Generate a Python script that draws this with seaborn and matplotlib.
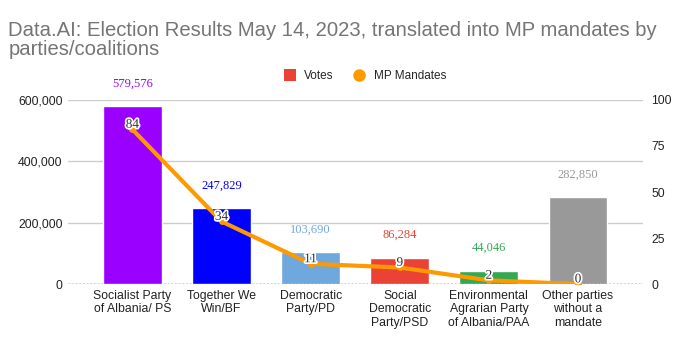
import matplotlib.pyplot as plt
import matplotlib.patheffects as pe
from matplotlib.lines import Line2D
import numpy as np
import pandas as pd
import seaborn as sns

sns.set_style("white")
plt.rcParams['font.family'] = ['Liberation Sans', 'DejaVu Sans']

parties = ['Socialist Party\nof Albania/ PS', 'Together We\nWin/BF', 'Democratic\nParty/PD',
           'Social\nDemocratic\nParty/PSD', 'Environmental\nAgrarian Party\nof Albania/PAA',
           'Other parties\nwithout a\nmandate']
votes = [579576, 247829, 103690, 86284, 44046, 282850]
mandates = [84, 34, 11, 9, 2, 0]
colors = ['#9900ff', '#0000ff', '#6fa8dc', '#ea4335', '#34a853', '#999999']

df = pd.DataFrame({'party': parties, 'votes': votes, 'mandates': mandates})
df['pos'] = np.arange(len(df))

fig = plt.figure(figsize=(6.96, 3.52), dpi=100)
ax = fig.add_axes([0.098, 0.193, 0.826, 0.523])

sns.barplot(data=df, x='party', y='votes', hue='party', palette=colors,
            width=0.66, saturation=1, legend=False, ax=ax)
ax.set_ylim(0, 600000)
ax.set_xlim(-0.72, 5.73)
ax.set_yticks([0, 200000, 400000, 600000])
ax.set_yticklabels(['0', '200,000', '400,000', '600,000'])
ax.yaxis.grid(True, color='#cccccc', linewidth=1)
ax.set_axisbelow(True)
ax.axhline(0, color='#333333', linestyle=':', linewidth=1, zorder=3)
for s in ax.spines.values():
    s.set_visible(False)
ax.set_xlabel('')
ax.set_ylabel('')
ax.tick_params(axis='both', length=0, labelsize=8.8, colors='#222222', pad=4)

for i, v in enumerate(votes):
    ax.annotate(f'{v:,}', (i, v), xytext=(0, 12), textcoords='offset points',
                ha='center', va='bottom', fontsize=9, color=colors[i],
                family='Liberation Serif')

ax2 = ax.twinx()
sns.lineplot(data=df, x='pos', y='mandates', color='#ff9900', linewidth=3,
             marker='o', markersize=5, markeredgewidth=0, ax=ax2)
ax2.set_ylim(0, 100)
ax2.set_yticks([0, 25, 50, 75, 100])
ax2.set_xlim(-0.72, 5.73)
for s in ax2.spines.values():
    s.set_visible(False)
ax2.set_xlabel('')
ax2.set_ylabel('')
ax2.tick_params(axis='y', length=0, labelsize=8.8, colors='#222222', pad=6)

for i, m in enumerate(mandates):
    t = ax2.annotate(str(m), (i, m), xytext=(0, -1), textcoords='offset points',
                     ha='center', va='bottom', fontsize=9.5, color='#333333',
                     family='Liberation Serif')
    t.set_path_effects([pe.withStroke(linewidth=2.5, foreground='white')])

fig.text(0.012, 0.887, 'Data.AI: Election Results May 14, 2023, translated into MP mandates by\nparties/coalitions',
         fontsize=14.6, color='#757575', ha='left', va='center', linespacing=1.02)

handles = [Line2D([], [], marker='s', color='none', markerfacecolor='#ea4335',
                  markeredgewidth=0, markersize=9, label='Votes'),
           Line2D([], [], marker='o', color='none', markerfacecolor='#ff9900',
                  markeredgewidth=0, markersize=9, label='MP Mandates')]
fig.legend(handles=handles, loc='center', bbox_to_anchor=(0.52, 0.785), ncol=2,
           frameon=False, fontsize=8.5, handletextpad=0.2, columnspacing=1.2)

fig.savefig('out.png', dpi=100)
